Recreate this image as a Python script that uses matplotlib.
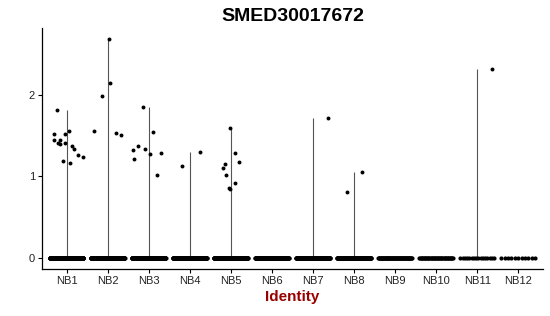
import numpy as np
import matplotlib
matplotlib.use("Agg")
import matplotlib.pyplot as plt

plt.rcParams['font.family'] = ['Liberation Sans', 'DejaVu Sans']

clusters = ["NB1", "NB2", "NB3", "NB4", "NB5", "NB6",
            "NB7", "NB8", "NB9", "NB10", "NB11", "NB12"]

# cells at zero expression per cluster (estimated from band density)
zero_counts = [300, 300, 300, 300, 300, 160, 260, 260, 70, 45, 16, 11]

# non-zero expression values per cluster
expr = {
    "NB1": [1.81, 1.52, 1.44, 1.41, 1.45, 1.40, 1.41, 1.52, 1.55, 1.37, 1.34, 1.26, 1.24, 1.19, 1.16],
    "NB2": [2.68, 2.14, 1.98, 1.55, 1.53, 1.51],
    "NB3": [1.85, 1.54, 1.32, 1.37, 1.34, 1.27, 1.29, 1.21, 1.01],
    "NB4": [1.30, 1.12],
    "NB5": [1.59, 1.29, 1.17, 1.15, 1.10, 1.02, 0.92, 0.85, 0.84],
    "NB7": [1.71],
    "NB8": [1.05, 0.81],
    "NB11": [2.32],
}
# horizontal jitter of those points (fraction of category width)
jitter = {
    "NB1": [-0.23, -0.30, -0.32, -0.21, -0.15, -0.15, -0.05, -0.03, 0.06, 0.12, 0.18, 0.27, 0.39, -0.10, 0.07],
    "NB2": [0.03, 0.05, -0.14, -0.33, 0.21, 0.32],
    "NB3": [-0.15, 0.11, -0.39, -0.27, -0.09, 0.02, 0.29, -0.37, 0.19],
    "NB4": [0.24, -0.20],
    "NB5": [-0.01, 0.10, 0.20, -0.15, -0.19, -0.13, 0.09, -0.04, -0.02],
    "NB7": [0.36],
    "NB8": [0.19, -0.16],
    "NB11": [0.36],
}

fig = plt.figure(figsize=(5.5, 3.16), dpi=100)
ax = fig.add_axes([0.0764, 0.1500, 0.9106, 0.7614])

for i, name in enumerate(clusters):
    x = i + 1
    vals = expr.get(name, [])
    if vals:
        # violin collapses to a thin line when nearly all cells are zero
        ax.vlines(x, 0, max(vals), color="#555555", lw=0.8, zorder=1)
    n = zero_counts[i]
    xs = x + np.linspace(-0.41, 0.41, n)
    ax.scatter(xs, np.zeros(n), s=9, color="black", lw=0, zorder=2)
    if vals:
        ax.scatter(x + np.array(jitter[name]), vals, s=8, color="black", lw=0, zorder=3)

ax.set_xlim(0.4, 12.6)
ax.set_ylim(-0.135, 2.82)
ax.set_xticks(range(1, len(clusters) + 1))
ax.set_xticklabels(clusters)
ax.set_yticks([0, 1, 2])
ax.tick_params(axis="both", labelsize=8, length=3, width=0.8, color="black", labelcolor="#222222", pad=2)

for side in ["top", "right"]:
    ax.spines[side].set_visible(False)
for side in ["left", "bottom"]:
    ax.spines[side].set_linewidth(0.9)

ax.set_xlabel("Identity", fontsize=11, fontweight="bold", color="#990000", labelpad=3)
ax.set_title("SMED30017672", fontsize=14, fontweight="bold", pad=5)

fig.savefig("out.png", dpi=100)
